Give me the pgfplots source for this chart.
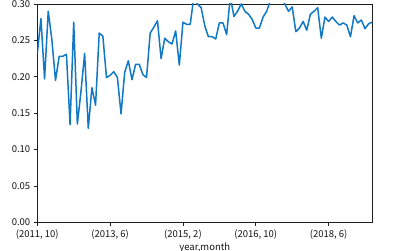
\documentclass[border=0pt]{standalone}
\usepackage{fontspec}
\setmainfont{Noto Sans CJK JP}
\usepackage{pgfplots}
\pgfplotsset{compat=1.18}
\definecolor{lineblue}{RGB}{16,120,196}
\definecolor{spine}{RGB}{30,30,30}
\begin{document}
\begin{tikzpicture}
\path[use as bounding box] (-37.3pt,-28.7pt) rectangle (355.7pt,222.3pt);
\begin{axis}[
  scale only axis,
  width=335pt, height=218.3pt,
  xmin=0, xmax=92, ymin=0, ymax=0.30,
  xtick={0,20,40,60,80},
  xticklabels={{(2011, 10)},{(2013, 6)},{(2015, 2)},{(2016, 10)},{(2018, 6)}},
  ytick={0,0.05,0.10,0.15,0.20,0.25,0.30},
  yticklabel style={/pgf/number format/.cd,fixed,fixed zerofill,precision=2},
  /pgf/number format/assume math mode=true,
  scaled y ticks=false,
  tick align=outside, tick pos=left,
  major tick length=3.5pt,
  axis line style={spine, line width=0.8pt},
  every tick/.style={spine, line width=0.8pt},
  tick label style={font=\fontsize{9.5}{11}\selectfont, text=black!92},
  label style={font=\fontsize{9.5}{11}\selectfont, text=black!92},
  xlabel={year,month},
  xlabel style={yshift=3.2pt},
  clip=true,
]
\addplot[lineblue, line width=1.5pt, line join=round] coordinates {
(0,0.232)(1,0.280)(2,0.197)(3,0.290)(4,0.251)(5,0.195)(6,0.228)(7,0.228)(8,0.231)(9,0.134)
(10,0.275)(11,0.135)(12,0.180)(13,0.232)(14,0.129)(15,0.185)(16,0.161)(17,0.260)(18,0.256)(19,0.199)
(20,0.202)(21,0.207)(22,0.199)(23,0.149)(24,0.206)(25,0.222)(26,0.196)(27,0.217)(28,0.217)(29,0.203)
(30,0.199)(31,0.260)(32,0.268)(33,0.277)(34,0.225)(35,0.253)(36,0.248)(37,0.245)(38,0.263)(39,0.216)
(40,0.275)(41,0.272)(42,0.272)(43,0.310)(44,0.300)(45,0.295)(46,0.270)(47,0.255)(48,0.255)(49,0.252)
(50,0.274)(51,0.274)(52,0.258)(53,0.310)(54,0.283)(55,0.290)(56,0.300)(57,0.290)(58,0.286)(59,0.279)
(60,0.267)(61,0.267)(62,0.282)(63,0.290)(64,0.305)(65,0.315)(66,0.312)(67,0.308)(68,0.300)(69,0.290)
(70,0.296)(71,0.262)(72,0.267)(73,0.276)(74,0.264)(75,0.286)(76,0.290)(77,0.295)(78,0.253)(79,0.282)
(80,0.276)(81,0.282)(82,0.276)(83,0.271)(84,0.274)(85,0.271)(86,0.255)(87,0.284)(88,0.274)(89,0.278)
(90,0.266)(91,0.273)(92,0.275)
};
\end{axis}
\end{tikzpicture}
\end{document}
